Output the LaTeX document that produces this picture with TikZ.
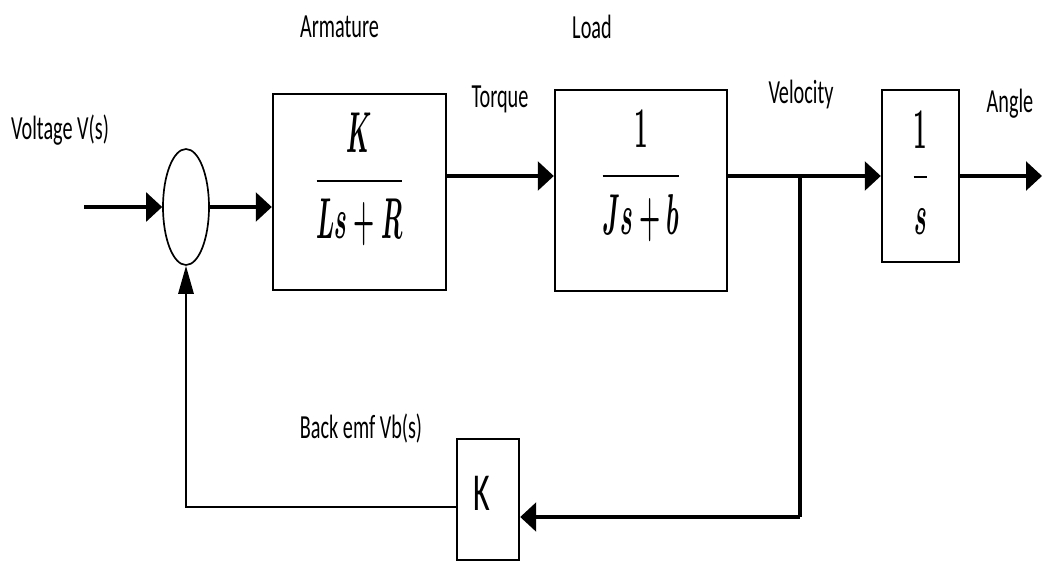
\RequirePackage{fix-cm}
\documentclass[tikz,border=0pt]{standalone}
\usepackage{fontspec}
\usepackage{amsmath}
\usepackage{graphicx}
\usetikzlibrary{arrows.meta,positioning,shapes.geometric}

\newfontfamily\labelfont[FakeStretch=0.6]{Carlito}
\newcommand{\blockfrac}[2]{\scalebox{0.42}[1]{\boldmath$\dfrac{#1}{#2}$}}

\begin{document}
\begin{tikzpicture}[
    block/.style={rectangle, draw, line width=1.7pt, inner sep=0pt},
    sumnode/.style={ellipse, draw, line width=1.2pt, minimum width=1.15cm, minimum height=2.9cm},
    tf/.style={inner sep=0pt, anchor=base, font=\fontsize{41}{48}\selectfont},
    lbl/.style={inner sep=0pt, anchor=base, font={\labelfont\fontsize{24}{28}\selectfont}},
    wire/.style={line width=2.2pt},
    harrow/.style={-{Triangle[length=0.4cm, width=0.72cm]}, line width=2.2pt},
    varrow/.style={-{Triangle[length=0.7cm, width=0.38cm]}, line width=1.7pt}
]
\useasboundingbox (0,0) rectangle (26.1,14.075);

% Blocks
\node[sumnode] (sum) at (4.65,8.9) {};
\node[block, minimum width=4.325cm, minimum height=4.9cm] (armature) at (8.9875,9.275) {};
\node[block, minimum width=4.3cm, minimum height=5.025cm] (load) at (16.025,9.3125) {};
\node[block, minimum width=1.925cm, minimum height=4.3cm] (integ) at (23.0125,9.675) {};
\node[block, minimum width=1.55cm, minimum height=3.025cm] (backk) at (12.2,1.5875) {};

% Transfer functions
\node[tf] (armtf) at ([yshift=-0.085cm]armature.center) {\blockfrac{K}{Ls+R}};
\node[tf] (loadtf) at (load.center) {\blockfrac{1}{Js+b}};
\node[tf] (integtf) at ([yshift=-0.385cm]integ.center) {\blockfrac{1}{s}};
\node[lbl, font={\labelfont\fontsize{38}{44}\selectfont}] (kval) at ([xshift=-0.15cm, yshift=-0.2625cm]backk.center) {K};

% Labels
\node[lbl] (voltlbl) at (1.5,10.6) {Voltage V(s)};
\node[lbl, above=1.375cm of armature, xshift=-0.5cm] (armlbl) {Armature};
\node[lbl] (loadlbl) at (14.8,13.1) {Load};
\node[lbl] (torquelbl) at (12.5,11.4) {Torque};
\node[lbl] (vellbl) at (20.025,11.5) {Velocity};
\node[lbl] (anglelbl) at (25.25,11.275) {Angle};
\node[lbl] (emflbl) at (9.025,3.125) {Back emf Vb(s)};

% Connectors
\coordinate (vin) at (2.1,8.9);
\coordinate (angleout) at (26.05,9.675);
\coordinate (branch) at (20,9.675);
\coordinate (fbturn) at (20,1.15);

\draw[harrow] (vin) -- (sum.west);
\draw[harrow] (sum.east) -- (sum.east -| armature.west);
\draw[harrow] (armature.east |- integ.west) -- (load.west |- integ.west);
\draw[harrow] (load.east |- integ.west) -- (integ.west);
\draw[harrow] (integ.east) -- (angleout);
\draw[wire] (branch) -- (fbturn);
\draw[harrow] (fbturn) -- (fbturn -| backk.east);
\draw[varrow] ([yshift=-0.1875cm]backk.west) -| (sum.south);

\end{tikzpicture}
\end{document}
